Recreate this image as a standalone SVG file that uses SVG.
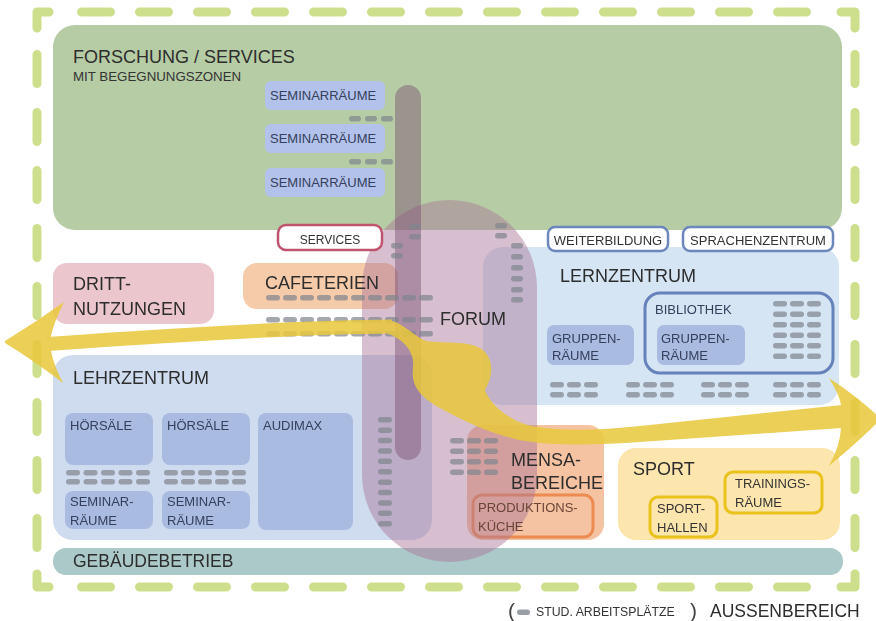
<svg xmlns="http://www.w3.org/2000/svg" width="876" height="621" viewBox="0 0 876 621">
<style>
text{font-family:"Liberation Sans",Arial,sans-serif}
.big{font-size:18px;fill:#2d2d2d}
.sm{font-size:13px;fill:#34405c}
.dk{font-size:13px;fill:#333}
.pill{fill:#80868f;opacity:.72}
.room{fill:#aabbe1}
.brd{fill:none;stroke:#cddf8d;stroke-width:9;stroke-linecap:round;stroke-linejoin:round}
.dash{stroke-dasharray:29 29}
.tag{fill:#fff;stroke-width:2.5}
</style>
<defs>
<rect id="p" width="14" height="5.5" rx="2.75"/>
<rect id="ps" width="12" height="5.5" rx="2.75"/>
</defs>

<g id="aussenbereich">
<path class="brd" d="M37,28 V12 H49"/>
<path class="brd" d="M841,12 H855 V28"/>
<path class="brd" d="M37,574 V587 H49"/>
<path class="brd" d="M841,587 H855 V574"/>
<path class="brd dash" d="M81.5,12 H806.5"/>
<path class="brd dash" d="M81.5,587 H806.5"/>
<path class="brd dash" d="M37,54.5 V547.5"/>
<path class="brd dash" d="M855,54.5 V547.5"/>
</g>

<g id="forschung">
<rect x="53" y="25" width="789" height="205" rx="22" fill="#b6cca5"/>
<text class="big" x="73" y="63">FORSCHUNG / SERVICES</text>
<text class="dk" x="73" y="81" style="font-size:13.3px">MIT BEGEGNUNGSZONEN</text>
</g>
<g id="seminar1"><rect x="265" y="81" width="120" height="29" rx="6" fill="#b3c2ea"/><text class="sm" x="270" y="100">SEMINARRÄUME</text></g>
<g id="seminar2"><rect x="265" y="124" width="120" height="29" rx="6" fill="#b3c2ea"/><text class="sm" x="270" y="143">SEMINARRÄUME</text></g>
<g id="seminar3"><rect x="265" y="168" width="120" height="29" rx="6" fill="#b3c2ea"/><text class="sm" x="270" y="187">SEMINARRÄUME</text></g>

<g id="lehrzentrum">
<rect x="53" y="355" width="379" height="185" rx="20" fill="#cfdcf0"/>
<rect class="room" x="65" y="413" width="88" height="52" rx="8"/>
<rect class="room" x="162" y="413" width="88" height="52" rx="8"/>
<rect class="room" x="258" y="413" width="95" height="117" rx="8"/>
<rect class="room" x="65" y="491" width="88" height="38" rx="8"/>
<rect class="room" x="162" y="491" width="88" height="38" rx="8"/>
</g>
<g id="lernzentrum">
<rect x="483" y="247" width="356" height="158" rx="20" fill="#d5e5f4"/>
<rect class="room" x="547" y="325" width="87" height="40" rx="7"/>
<rect x="645" y="293" width="188" height="80" rx="15" fill="none" stroke="#6682ba" stroke-width="3"/>
<rect class="room" x="657" y="325" width="88" height="40" rx="7"/>
</g>
<g id="drittnutzungen"><rect x="53" y="263" width="161" height="61" rx="14" fill="#ecc6cd"/></g>
<g id="cafeterien"><rect x="243" y="263" width="155" height="46" rx="14" fill="#f6cba9"/></g>
<g id="mensa"><rect x="467" y="425" width="137" height="115" rx="16" fill="#f6c3a2"/>
<rect x="473" y="495" width="120" height="42" rx="9" fill="none" stroke="#ec8a50" stroke-width="3"/></g>
<g id="sport"><rect x="618" y="448" width="222" height="92" rx="18" fill="#fde5ae"/>
<rect x="650" y="497" width="67" height="40" rx="8" fill="none" stroke="#e9c21b" stroke-width="3"/>
<rect x="725" y="472" width="97" height="41" rx="8" fill="none" stroke="#e9c21b" stroke-width="3"/></g>
<g id="gebaeudebetrieb"><rect x="53" y="548" width="790" height="27" rx="13" fill="#abc9c9"/></g>

<g id="forum">
<rect x="362" y="200" width="175" height="362" rx="87.5" fill="#a9789a" opacity=".47"/>
<rect x="395" y="85" width="26" height="375" rx="13" fill="#7b4e70" opacity=".45"/>
</g>

<g id="arbeitsplaetze" class="pill">
<use href="#ps" x="349" y="116"/><use href="#ps" x="365" y="116"/><use href="#ps" x="381" y="116"/>
<use href="#ps" x="349" y="159"/><use href="#ps" x="365" y="159"/><use href="#ps" x="381" y="159"/>
<use href="#ps" x="391" y="243"/><use href="#ps" x="391" y="253"/>
<use href="#ps" x="409" y="224"/><use href="#ps" x="409" y="234"/>
<use href="#ps" x="495" y="223"/><use href="#ps" x="495" y="233"/>
<use href="#ps" x="511" y="243"/><use href="#ps" x="511" y="254"/><use href="#ps" x="511" y="265"/><use href="#ps" x="511" y="276"/><use href="#ps" x="511" y="287"/><use href="#ps" x="511" y="297"/>
<use href="#p" x="266" y="295"/><use href="#p" x="283" y="295"/><use href="#p" x="300" y="295"/><use href="#p" x="317" y="295"/><use href="#p" x="334" y="295"/><use href="#p" x="351" y="295"/><use href="#p" x="368" y="295"/><use href="#p" x="385" y="295"/><use href="#p" x="402" y="295"/><use href="#p" x="419" y="295"/>
<use href="#p" x="266" y="317"/><use href="#p" x="283" y="317"/><use href="#p" x="300" y="317"/><use href="#p" x="317" y="317"/><use href="#p" x="334" y="317"/><use href="#p" x="351" y="317"/><use href="#p" x="368" y="317"/><use href="#p" x="385" y="317"/><use href="#p" x="402" y="317"/><use href="#p" x="419" y="317"/>
<use href="#p" x="266" y="331"/><use href="#p" x="283" y="331"/><use href="#p" x="300" y="331"/><use href="#p" x="317" y="331"/><use href="#p" x="334" y="331"/><use href="#p" x="351" y="331"/><use href="#p" x="368" y="331"/><use href="#p" x="385" y="331"/><use href="#p" x="402" y="331"/><use href="#p" x="419" y="331"/>
<use href="#p" x="378" y="417"/><use href="#p" x="378" y="427.4"/><use href="#p" x="378" y="437.8"/><use href="#p" x="378" y="448.2"/><use href="#p" x="378" y="458.6"/><use href="#p" x="378" y="469"/><use href="#p" x="378" y="479.4"/><use href="#p" x="378" y="489.8"/><use href="#p" x="378" y="500.2"/><use href="#p" x="378" y="510.6"/><use href="#p" x="378" y="521"/>
<use href="#p" x="66" y="470"/><use href="#p" x="83.5" y="470"/><use href="#p" x="101" y="470"/><use href="#p" x="118.5" y="470"/><use href="#p" x="136" y="470"/>
<use href="#p" x="66" y="479"/><use href="#p" x="83.5" y="479"/><use href="#p" x="101" y="479"/><use href="#p" x="118.5" y="479"/><use href="#p" x="136" y="479"/>
<use href="#p" x="164" y="470"/><use href="#p" x="181" y="470"/><use href="#p" x="198" y="470"/><use href="#p" x="215" y="470"/><use href="#p" x="232" y="470"/>
<use href="#p" x="164" y="479"/><use href="#p" x="181" y="479"/><use href="#p" x="198" y="479"/><use href="#p" x="215" y="479"/><use href="#p" x="232" y="479"/>
<use href="#p" x="450" y="438"/><use href="#p" x="467" y="438"/><use href="#p" x="484" y="438"/>
<use href="#p" x="450" y="448.5"/><use href="#p" x="467" y="448.5"/><use href="#p" x="484" y="448.5"/>
<use href="#p" x="450" y="459"/><use href="#p" x="467" y="459"/><use href="#p" x="484" y="459"/>
<use href="#p" x="450" y="469.5"/><use href="#p" x="467" y="469.5"/><use href="#p" x="484" y="469.5"/>
<use href="#p" x="773" y="301"/><use href="#p" x="790" y="301"/><use href="#p" x="807" y="301"/>
<use href="#p" x="773" y="311.5"/><use href="#p" x="790" y="311.5"/><use href="#p" x="807" y="311.5"/>
<use href="#p" x="773" y="322"/><use href="#p" x="790" y="322"/><use href="#p" x="807" y="322"/>
<use href="#p" x="773" y="332.5"/><use href="#p" x="790" y="332.5"/><use href="#p" x="807" y="332.5"/>
<use href="#p" x="773" y="343"/><use href="#p" x="790" y="343"/><use href="#p" x="807" y="343"/>
<use href="#p" x="773" y="353.5"/><use href="#p" x="790" y="353.5"/><use href="#p" x="807" y="353.5"/>
<use href="#p" x="550" y="382"/><use href="#p" x="567" y="382"/><use href="#p" x="584" y="382"/>
<use href="#p" x="550" y="392"/><use href="#p" x="567" y="392"/><use href="#p" x="584" y="392"/>
<use href="#p" x="626" y="382"/><use href="#p" x="643" y="382"/><use href="#p" x="660" y="382"/>
<use href="#p" x="626" y="392"/><use href="#p" x="643" y="392"/><use href="#p" x="660" y="392"/>
<use href="#p" x="701" y="382"/><use href="#p" x="718" y="382"/><use href="#p" x="735" y="382"/>
<use href="#p" x="701" y="392"/><use href="#p" x="718" y="392"/><use href="#p" x="735" y="392"/>
<use href="#p" x="773" y="382"/><use href="#p" x="790" y="382"/><use href="#p" x="807" y="382"/>
<use href="#p" x="773" y="392"/><use href="#p" x="790" y="392"/><use href="#p" x="807" y="392"/>
</g>

<g id="connectors" fill="#e8c83c" stroke="#e8c83c" opacity=".86">
<path d="M392,326.5 C300,327 160,336 48,344" fill="none" stroke-width="14"/>
<path stroke="none" d="M386,320 C402,321 412,335 426,341 C448,344 472,340 484,351 C495,362 492,378 485,390 C490,404 507,420 532,426 C565,432 600,430 640,426 L842,405 L842,428 L640,442 C600,445 555,446 525,441 C492,435 462,420 440,408 C418,396 411,384 413,368 C415,352 404,339 386,333 Z"/>
<path stroke="none" d="M5,341 Q36,322 64,302 Q54,322 51,336 L51,351 Q54,366 63,383 Q36,362 5,343 Z"/>
<path stroke="none" d="M880,418 Q858,397 829,378 Q840,396 841,405 L841,428 Q840,446 829,466 Q858,442 880,420 Z"/>
</g>

<g id="services"><rect class="tag" x="278" y="225" width="104" height="25" rx="8" stroke="#c0546e"/><text class="dk" x="330" y="244" text-anchor="middle" style="font-size:12px">SERVICES</text></g>
<g id="weiterbildung"><rect class="tag" x="548" y="227" width="120" height="24" rx="7" stroke="#6b87bb"/><text class="dk" x="608" y="245" text-anchor="middle">WEITERBILDUNG</text></g>
<g id="sprachenzentrum"><rect class="tag" x="683" y="227" width="150" height="24" rx="7" stroke="#6b87bb"/><text class="dk" x="758" y="245" text-anchor="middle">SPRACHENZENTRUM</text></g>

<g id="labels">
<text class="big" x="73" y="290">DRITT-</text>
<text class="big" x="73" y="315">NUTZUNGEN</text>
<text class="big" x="265" y="289">CAFETERIEN</text>
<text class="big" x="440" y="325">FORUM</text>
<text class="big" x="560" y="282">LERNZENTRUM</text>
<text class="big" x="73" y="384">LEHRZENTRUM</text>
<text class="sm" x="70" y="430">HÖRSÄLE</text>
<text class="sm" x="167" y="430">HÖRSÄLE</text>
<text class="sm" x="263" y="430">AUDIMAX</text>
<text class="sm" x="70" y="506">SEMINAR-</text><text class="sm" x="70" y="525">RÄUME</text>
<text class="sm" x="167" y="506">SEMINAR-</text><text class="sm" x="167" y="525">RÄUME</text>
<text class="sm" x="552" y="343">GRUPPEN-</text><text class="sm" x="552" y="360">RÄUME</text>
<text class="sm" x="655" y="314">BIBLIOTHEK</text>
<text class="sm" x="661" y="343">GRUPPEN-</text><text class="sm" x="661" y="360">RÄUME</text>
<text class="big" x="511" y="466">MENSA-</text>
<text class="big" x="511" y="489">BEREICHE</text>
<text class="dk" x="478" y="512" style="fill:#6a4535">PRODUKTIONS-</text>
<text class="dk" x="478" y="531" style="fill:#6a4535">KÜCHE</text>
<text class="big" x="633" y="475">SPORT</text>
<text class="dk" x="657" y="513">SPORT-</text><text class="dk" x="657" y="532">HALLEN</text>
<text class="dk" x="735" y="488">TRAININGS-</text><text class="dk" x="735" y="507">RÄUME</text>
<text class="big" x="73" y="567" style="font-size:17.5px">GEBÄUDEBETRIEB</text>
</g>

<g id="legende">
<text x="508" y="618" style="font-size:21px;fill:#444">(</text>
<rect x="517" y="609.5" width="13" height="5.5" rx="2.75" fill="#9a9ea6"/>
<text x="536" y="616" style="font-size:12.3px;fill:#333">STUD. ARBEITSPLÄTZE</text>
<text x="690" y="618" style="font-size:21px;fill:#444">)</text>
<text x="710" y="617" style="font-size:17.5px;fill:#2d2d2d">AUSSENBEREICH</text>
</g>
</svg>
